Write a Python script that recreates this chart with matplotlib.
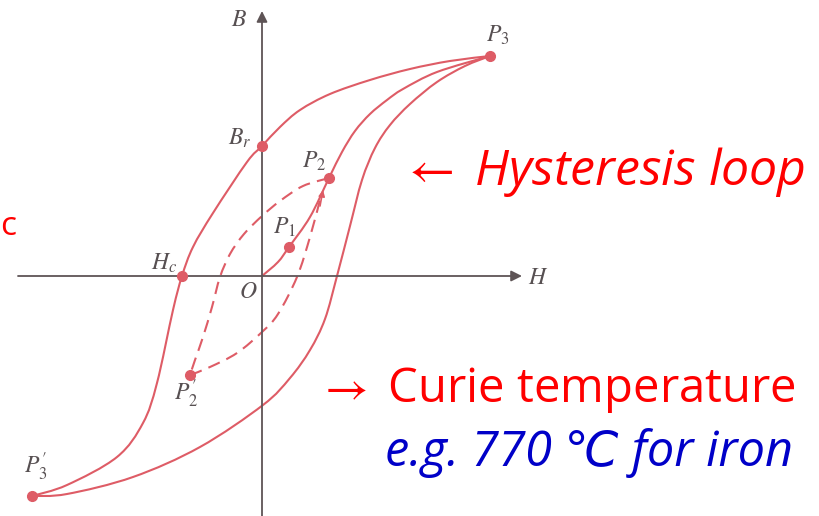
import numpy as np
import matplotlib
matplotlib.use('Agg')
import matplotlib.pyplot as plt
from matplotlib.path import Path
from matplotlib.patches import PathPatch

plt.rcParams['mathtext.fontset'] = 'stix'

# ---- data (H, B) in arbitrary units ----
# descending (upper) branch of the hysteresis loop: P3 -> Br -> Hc -> P3'
upper_H = [22.8, 18.8, 14.8, 10.8, 6.8, 3.8, 1.8, 0.0, -1.5, -4.9, -6.9, -8.0,
           -8.9, -10.5, -11.9, -14.5, -19.5, -23.0]
upper_B = [22.0, 21.5, 20.7, 19.6, 18.2, 16.6, 14.9, 13.0, 11.4, 6.3, 2.9, 0.0,
           -3.4, -10.7, -14.7, -18.1, -20.9, -22.0]
# ascending (lower) branch: P3' -> -Br -> +Hc -> P3
lower_H = [-23.0, -19.5, -12.9, -6.2, 0.1, 2.8, 4.8, 6.3, 7.5, 8.8, 10.0, 11.3,
           12.8, 14.8, 17.5, 20.3, 22.8]
lower_B = [-22.0, -21.8, -20.1, -17.1, -12.9, -10.2, -7.4, -4.3, 0.0, 5.0, 9.6, 12.8,
           15.1, 17.2, 19.4, 21.0, 22.0]
# initial magnetisation curve: O -> P1 -> P2 -> P3
init_H = [0.0, 1.6, 2.7, 4.8, 6.7, 8.0, 9.3, 10.8, 12.5, 14.1, 17.5, 22.8]
init_B = [0.0, 1.4, 2.9, 5.9, 9.8, 12.4, 14.5, 16.2, 17.6, 18.7, 20.4, 22.0]
# minor loop (dashed): P2 -> P2' and P2' -> back towards P2
minor_up_H = [6.7, 4.1, 1.8, 0.0, -1.8, -3.2, -4.2, -5.0, -5.9, -6.7, -7.2]
minor_up_B = [9.8, 9.0, 7.5, 6.0, 4.2, 2.2, -0.1, -3.1, -6.1, -8.4, -9.9]
minor_lo_H = [-7.2, -5.2, -2.5, 0.0, 1.6, 3.5, 4.8, 5.8]
minor_lo_B = [-9.9, -9.1, -7.7, -5.6, -3.8, -0.1, 3.9, 7.6]
minor_arrow_tip = (6.1, 8.6)

# labelled points
pt_names = ['P1', 'P2', 'P3', "P3'", "P2'", 'Br', 'Hc']
pt_H = [2.7, 6.7, 22.8, -23.0, -7.2, 0.0, -8.0]
pt_B = [2.9, 9.8, 22.0, -22.0, -9.9, 13.0, 0.0]

curve_col = '#de5c66'
axis_col = '#5e5456'
lab_col = '#575052'

W, Hpx = 819, 516
fig = plt.figure(figsize=(W / 100, Hpx / 100), dpi=100)
ax = fig.add_axes([0, 0, 1, 1])
ax.set_xlim(-26.2, 55.7)
ax.set_ylim(-24.0, 27.6)
ax.axis('off')


def smooth_path(xs, ys):
    pts = np.column_stack([xs, ys]).astype(float)
    n = len(pts)
    verts = [pts[0]]
    codes = [Path.MOVETO]
    for i in range(n - 1):
        p0 = pts[i - 1] if i > 0 else pts[i]
        p1 = pts[i]
        p2 = pts[i + 1]
        p3 = pts[i + 2] if i + 2 < n else pts[i + 1]
        c1 = p1 + (p2 - p0) / 6.0
        c2 = p2 - (p3 - p1) / 6.0
        verts += [c1, c2, p2]
        codes += [Path.CURVE4] * 3
    return Path(verts, codes)


# axes
ax.annotate('', xy=(26.0, 0), xytext=(-24.4, 0),
            arrowprops=dict(arrowstyle='-|>', color=axis_col, lw=1.3,
                            mutation_scale=16, shrinkA=0, shrinkB=0))
ax.annotate('', xy=(0, 26.5), xytext=(0, -24.5),
            arrowprops=dict(arrowstyle='-|>', color=axis_col, lw=1.3,
                            mutation_scale=16, shrinkA=0, shrinkB=0))

# curves
for xs, ys in [(upper_H, upper_B), (lower_H, lower_B), (init_H, init_B)]:
    ax.add_patch(PathPatch(smooth_path(xs, ys), fill=False, edgecolor=curve_col,
                           lw=1.5, capstyle='round', joinstyle='round'))
for xs, ys in [(minor_up_H, minor_up_B), (minor_lo_H, minor_lo_B)]:
    ax.add_patch(PathPatch(smooth_path(xs, ys), fill=False, edgecolor=curve_col,
                           lw=1.5, linestyle=(0, (6, 3.5))))
ax.annotate('', xy=minor_arrow_tip, xytext=(minor_lo_H[-1], minor_lo_B[-1] - 0.6),
            arrowprops=dict(arrowstyle='-|>', color=curve_col, lw=1.2,
                            mutation_scale=9, shrinkA=0, shrinkB=0))

ax.plot(pt_H, pt_B, 'o', color=curve_col, ms=7, mec=curve_col, zorder=5)


def px(x, y):
    return x / W, 1 - y / Hpx


lab_kw = dict(color=lab_col, fontsize=17, ha='center', va='center')
fig.text(*px(239, 19), r'$B$', **lab_kw)
fig.text(*px(538, 277), r'$H$', **lab_kw)
fig.text(*px(248, 291), r'$O$', **lab_kw)
fig.text(*px(240, 138), r'$B_r$', **lab_kw)
fig.text(*px(164, 263), r'$H_c$', **lab_kw)
fig.text(*px(284, 227), r'$P_1$', **lab_kw)
fig.text(*px(314, 161), r'$P_2$', **lab_kw)
fig.text(*px(498, 35), r'$P_3$', **lab_kw)
fig.text(*px(186, 394), "$P_2^{\\text{\u2032}}$", **lab_kw)
fig.text(*px(36, 467), "$P_3^{\\text{\u2032}}$", **lab_kw)

sans = ['Open Sans', 'DejaVu Sans']
fig.text(*px(401, 185), r'$\leftarrow$ Hysteresis loop', color='#ff0000', fontsize=36,
         style='italic', family=sans, ha='left', va='baseline')
fig.text(*px(318, 402), r'$\rightarrow$ Curie temperature', color='#ff0000', fontsize=34,
         family=sans, ha='left', va='baseline')
fig.text(*px(385, 466), 'e.g. 770 \u2103 for iron', color='#0000c8', fontsize=35,
         style='italic', family=sans, ha='left', va='baseline')
fig.text(*px(0, 235), 'c', color='#ff0000', fontsize=24, family=sans,
         ha='left', va='baseline')

fig.savefig('out.png', dpi=100)
